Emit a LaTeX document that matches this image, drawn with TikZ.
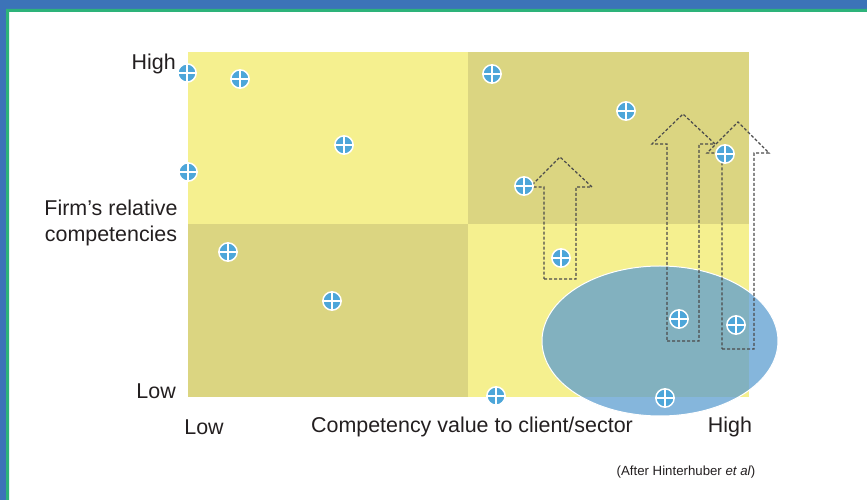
\documentclass[tikz,border=0pt]{standalone}
\usepackage{fontspec}
\setmainfont{Liberation Sans}
\usepackage{tikz}
\definecolor{frameblue}{RGB}{60,115,184}
\definecolor{framegreen}{RGB}{45,179,122}
\definecolor{lightyellow}{RGB}{245,240,143}
\definecolor{darkyellow}{RGB}{219,213,129}
\definecolor{zoneblue}{RGB}{90,156,208}
\definecolor{dotblue}{RGB}{77,166,217}
\definecolor{arrowgray}{RGB}{75,75,75}
\definecolor{inkgray}{RGB}{35,31,32}

\tikzset{
    lbl/.style={font=\fontsize{18.3}{22}\selectfont, text=inkgray, inner sep=0pt},
    dot/.style={circle, fill=dotblue, draw=white, line width=0.45mm,
        minimum size=5.5mm, inner sep=0pt,
        path picture={\draw[white, line width=0.45mm]
            (path picture bounding box.north) -- (path picture bounding box.south)
            (path picture bounding box.west) -- (path picture bounding box.east);}},
    dashline/.style={draw=arrowgray, line width=0.36mm, dash pattern=on 0.9mm off 0.6mm}
}

\begin{document}
\begin{tikzpicture}[x=0.3mm, y=-0.3mm]
        \useasboundingbox (0,0) rectangle (867,500);
        % frame
        \fill[frameblue] (0,0) rectangle (867,9);
        \fill[frameblue] (0,0) rectangle (6,500);
        \fill[framegreen] (6,500) -- (6,9) -- (867,9) -- (867,12) -- (9,12) -- (9,500) -- cycle;

        % quadrants
        \fill[lightyellow] (188,52) rectangle (468,224);
        \fill[darkyellow] (468,52) rectangle (749,224);
        \fill[darkyellow] (188,224) rectangle (468,397);
        \fill[lightyellow] (468,224) rectangle (749,397);

        % target zone
        \fill[zoneblue, fill opacity=0.74] (660,341) ellipse (118 and 75);
        \draw[white, line width=0.3mm] (660,341) ellipse (118 and 75);

        % movement arrows
        \draw[dashline] (544,279) -- (576,279) -- (576,187) -- (592,187) -- (560,157)
            -- (530,187) -- (544,187) -- cycle;
        \draw[dashline] (667,341) -- (699,341) -- (699,144) -- (715,144) -- (683,114)
            -- (652,144) -- (667,144) -- cycle;
        \draw[dashline] (722,349) -- (754,349) -- (754,153) -- (769,153) -- (738,122)
            -- (707,153) -- (722,153) -- cycle;

        % competencies
        \node[dot] (c1) at (187,73) {};
        \node[dot] (c2) at (240,79) {};
        \node[dot] (c3) at (344,145) {};
        \node[dot] (c4) at (188,172) {};
        \node[dot] (c5) at (228,252) {};
        \node[dot] (c6) at (332,301) {};
        \node[dot] (c7) at (492,74) {};
        \node[dot] (c8) at (626,111) {};
        \node[dot] (c9) at (524,186) {};
        \node[dot] (c10) at (725,154) {};
        \node[dot] (c11) at (561,258) {};
        \node[dot] (c12) at (679,319) {};
        \node[dot] (c13) at (736,325) {};
        \node[dot] (c14) at (496,396) {};
        \node[dot] (c15) at (665,398) {};

        % axis labels
        \node[lbl, anchor=east] (yhigh) at (176,64) {High};
        \node[lbl, anchor=east] (ylow) at (176,391) {Low};
        \node[lbl, align=center] (ytitle) at (111,223) {Firm’s relative\\competencies};
        \node[lbl] (xlow) at (204,427) {Low};
        \node[lbl] (xtitle) at (472,427) {Competency value to client/sector};
        \node[lbl] (xhigh) at (730,427) {High};
        \node[font=\fontsize{11.3}{13}\selectfont, text=inkgray, inner sep=0pt] (source) at (686,472)
            {(After Hinterhuber \textit{et al})};
\end{tikzpicture}
\end{document}
